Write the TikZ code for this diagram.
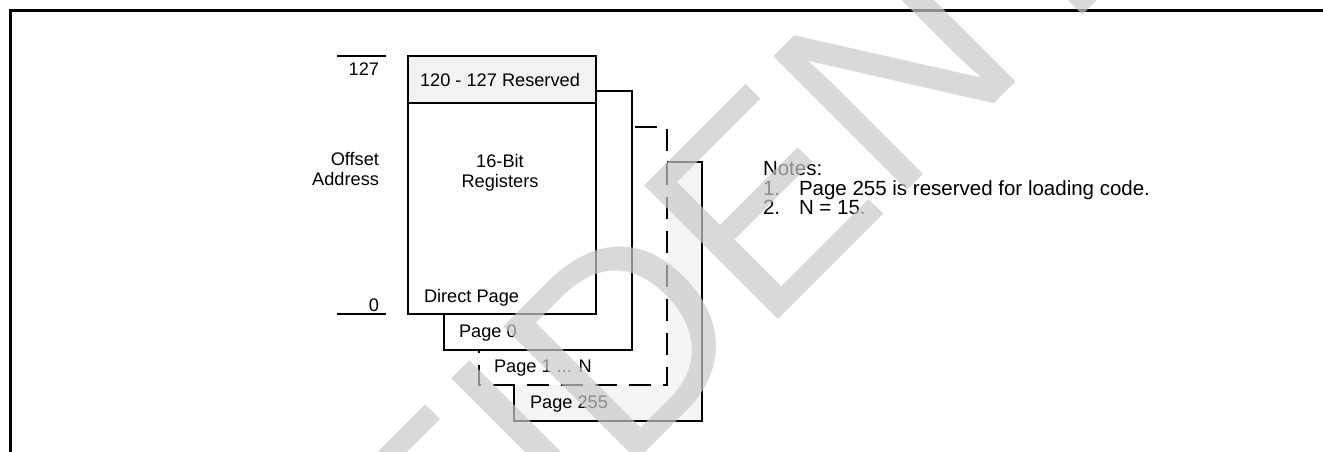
\documentclass[tikz,border=0pt]{standalone}
\usepackage{fontspec}
\setmainfont{Liberation Sans}
\begin{document}
\begin{tikzpicture}[x=1pt,y=-1pt,line width=2pt,
  lbl/.style={inner sep=0pt,font=\fontsize{18.2}{20}\selectfont},
  note/.style={inner sep=0pt,font=\fontsize{20.5}{20}\selectfont},
  wmark/.style={inner sep=0pt,text=black!21,text opacity=0.7,font=\fontsize{275}{275}\selectfont}]
\useasboundingbox (0,0) rectangle (1323,452);
% frame
\draw[line width=3pt] (10,452) -- (10,10.5) -- (1323,10.5);
% pages, back to front
\filldraw[fill=black!4] (514,162) rectangle (702,421);\node[lbl,anchor=base west] (p255) at (529,408){Page 255};
\filldraw[fill=white,dash pattern=on 22pt off 12pt] (479,127) rectangle (667,385);\node[lbl,anchor=base west] (p1) at (493,372){Page 1 ... N};
\filldraw[fill=white] (444,91) rectangle (632,350);\node[lbl,anchor=base west] (p0) at (458,337){Page 0};
\filldraw[fill=white] (408,56) rectangle (596,314);
\filldraw[fill=black!5] (408,56) rectangle (596,103);\node[lbl,anchor=base] (res) at (500,87){120 - 127 Reserved};
\node[lbl,align=center,anchor=base] (reg) at (500,187){16-Bit\\Registers};
\node[lbl,anchor=base west] (dp) at (423,302){Direct Page};
% offset scale
\coordinate (t1) at (337,56);\coordinate (t2) at (386,56);\node[lbl,anchor=base east] (hi) at (380,76){127};
\coordinate (b1) at (337,314);\coordinate (b2) at (386,314);\node[lbl,anchor=base east] (lo) at (380,311){0};
\draw (t1)--(t2);\draw (b1)--(b2);
\node[lbl,align=right,anchor=base east] (off) at (380,185){Offset\\Address};
% notes
\node[note,anchor=base west] (nt) at (762,175){Notes:};
\node[note,anchor=base west] (n1) at (762,195){1.};\node[note,anchor=base west] (n1t) at (798,195){Page 255 is reserved for loading code.};
\node[note,anchor=base west] (n2) at (762,214){2.};\node[note,anchor=base west] (n2t) at (798,214){N = 15.};
% watermark
\node[wmark,rotate=45,anchor=base west] (wm) at (16,1082){CONFIDENTIAL};
\end{tikzpicture}
\end{document}
